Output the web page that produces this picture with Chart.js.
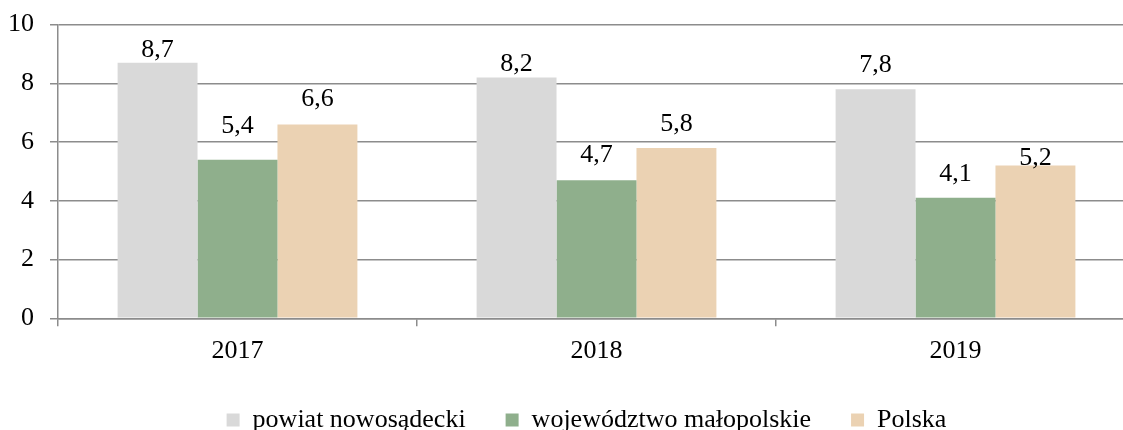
<!DOCTYPE html>
<html>
<head>
<meta charset="utf-8">
<script src="https://cdn.jsdelivr.net/npm/chart.js@4/dist/chart.umd.min.js"></script>
<style>
    html, body { margin: 0; padding: 0; background: #fff; overflow: hidden; }
    #wrap { width: 1135px; height: 430px; }
</style>
</head>
<body>
<div id="wrap"><canvas id="wykres" width="1135" height="430"></canvas></div>
<script>
        // ============ DANE ============
        const lata = ['2017', '2018', '2019'];
        const powiat = [8.7, 8.2, 7.8];
        const wojewodztwo = [5.4, 4.7, 4.1];
        const polska = [6.6, 5.8, 5.2];
        const nazwySerii = ['powiat nowosądecki', 'województwo małopolskie', 'Polska'];
        const osY = { min: 0, max: 10, krok: 2 };

        const kolory = ['#d9d9d9', '#8faf8c', '#ebd2b3'];
        const czcionka = '"Liberation Serif", "Times New Roman", serif';
        const szary = '#8c8c8c';

        // odstep etykiety nad slupkiem (px) - tak jak w oryginale
        const odstepEtykiet = [
            [6, 6, 17],
            [27, 18, 17],
            [18, 17, 1]
        ];

        // ============ ETYKIETY DANYCH ============
        const etykiety = {
            id: 'etykiety',
            afterDatasetsDraw(chart) {
                const ctx = chart.ctx;
                ctx.save();
                ctx.font = '26px ' + czcionka;
                ctx.fillStyle = '#000';
                ctx.textAlign = 'center';
                ctx.textBaseline = 'alphabetic';
                chart.data.datasets.forEach((ds, i) => {
                    chart.getDatasetMeta(i).data.forEach((bar, j) => {
                        const txt = ds.data[j].toFixed(1).replace('.', ',');
                        ctx.fillText(txt, bar.x, bar.y - odstepEtykiet[i][j]);
                    });
                });
                ctx.restore();
            }
        };

        // przesuniecie legendy
        const legendaPrzesun = {
            id: 'legendaPrzesun',
            afterLayout(chart) {
                const lg = chart.legend;
                lg.left += 19; lg.right += 19;
                lg.top -= 9.5; lg.bottom -= 9.5;
            }
        };

        const ctx = document.getElementById('wykres').getContext('2d');
        const chart = new Chart(ctx, {
            type: 'bar',
            data: {
                labels: lata,
                datasets: [powiat, wojewodztwo, polska].map((d, i) => ({
                    label: nazwySerii[i],
                    data: d,
                    backgroundColor: kolory[i],
                    borderWidth: 0,
                    barPercentage: 1,
                    categoryPercentage: 0.668
                }))
            },
            options: {
                responsive: false,
                animation: false,
                layout: { padding: { top: 24.5, left: 0, right: 0, bottom: -22.5 } },
                plugins: {
                    tooltip: { enabled: false },
                    legend: {
                        position: 'bottom',
                        labels: {
                            boxWidth: 13,
                            boxHeight: 13,
                            padding: 40,
                            color: '#000',
                            font: { family: czcionka, size: 26 }
                        }
                    }
                },
                scales: {
                    x: {
                        grid: {
                            display: true,
                            drawOnChartArea: false,
                            drawTicks: true,
                            tickLength: 8,
                            color: szary,
                            lineWidth: 1.5
                        },
                        border: { color: szary, width: 1.5 },
                        ticks: {
                            color: '#000',
                            padding: 9.5,
                            font: { family: czcionka, size: 26 }
                        }
                    },
                    y: {
                        min: osY.min,
                        max: osY.max,
                        grid: {
                            color: szary,
                            lineWidth: 1.5,
                            tickLength: 8
                        },
                        border: { color: szary, width: 1.5 },
                        ticks: {
                            stepSize: osY.krok,
                            color: '#000',
                            padding: 16,
                            font: { family: czcionka, size: 26 }
                        },
                        afterFit(scale) {
                            scale.width = 58;
                            scale.paddingTop = 0;
                            scale.paddingBottom = 0;
                        }
                    }
                }
            },
            plugins: [etykiety, legendaPrzesun]
        });
</script>
</body>
</html>
